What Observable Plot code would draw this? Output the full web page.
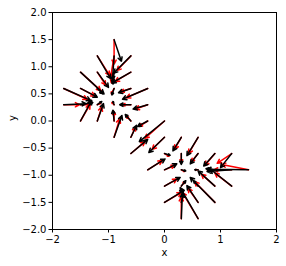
<!DOCTYPE html>
<html><head><meta charset="utf-8">
<script src="https://cdn.jsdelivr.net/npm/d3@7"></script>
<script src="https://cdn.jsdelivr.net/npm/@observablehq/plot@0.6"></script>
<style>body{margin:0;background:#fff} svg{font-family:"DejaVu Sans",sans-serif}</style>
</head><body><div id="chart"></div>
<script>
const tailX = [-1.8,-1.8,-1.5,-1.5,-1.5,-1.5,-1.2,-1.2,-1.2,-1.2,-1.2,-0.9,-0.9,-0.9,-0.9,-0.9,-0.9,-0.9,-0.6,-0.6,-0.6,-0.6,-0.6,-0.6,-0.3,-0.3,-0.3,
  -0.6,0.0,0.0,-0.3,0.0,
  0.3,0.6,0.3,0.6,0.9,1.2,0.0,0.3,0.6,0.9,1.2,1.5,0.0,0.3,0.6,0.9,1.2,0.0,0.3,0.6,0.9,0.3,0.6];
const tailY = [0.6,0.3,0.9,0.6,0.3,0.0,1.2,0.9,0.6,0.3,0.0,1.5,1.2,0.9,0.6,0.3,0.0,-0.3,1.2,0.9,0.6,0.3,0.0,-0.3,0.6,0.3,0.0,
  -0.6,0.0,-0.3,-0.9,-0.6,
  -0.3,-0.3,-0.6,-0.6,-0.6,-0.6,-0.9,-0.9,-0.9,-0.9,-0.9,-0.9,-1.2,-1.2,-1.2,-1.2,-1.2,-1.5,-1.5,-1.5,-1.5,-1.8,-1.8];
const blackU = [0.48,0.40,0.42,0.30,0.22,0.20,0.24,0.20,0.10,0.08,0.11,0.13,-0.03,-0.02,-0.04,-0.02,-0.02,0.14,-0.31,-0.34,-0.22,-0.20,-0.10,0.10,-0.45,-0.26,-0.18,
  0.30,-0.45,-0.28,0.31,0.10,
  -0.15,-0.20,0.00,-0.14,-0.20,-0.20,0.22,0.08,-0.06,-0.16,-0.44,-0.74,0.28,0.08,-0.08,-0.30,-0.38,0.35,0.04,-0.20,-0.44,0.02,-0.32];
const blackV = [-0.22,0.02,-0.40,-0.16,0.04,0.38,-0.42,-0.28,-0.10,0.06,0.32,-0.40,-0.45,-0.22,-0.12,0.06,0.20,0.40,-0.32,-0.20,-0.08,0.00,0.12,0.22,-0.20,-0.08,-0.10,
  0.26,-0.38,-0.28,0.20,-0.03,
  -0.25,-0.34,-0.20,-0.19,-0.23,-0.26,0.11,-0.02,0.00,0.02,-0.03,0.01,0.16,0.10,0.10,0.28,0.31,0.22,0.15,0.31,0.46,0.47,0.57];
const redU = [0.42,0.28,0.36,0.26,0.18,0.17,0.22,0.15,0.09,0.06,0.08,0.00,-0.06,-0.05,-0.05,-0.04,0.00,0.10,-0.25,-0.28,-0.18,-0.15,-0.08,0.08,-0.38,-0.22,-0.15,
  0.25,-0.35,-0.22,0.26,0.08,
  -0.12,-0.17,0.00,-0.12,-0.18,-0.26,0.18,0.06,-0.05,-0.14,-0.32,-0.48,0.22,0.06,-0.06,-0.24,-0.30,0.30,0.02,-0.18,-0.36,0.00,-0.28];
const redV = [-0.20,0.00,-0.34,-0.14,0.00,0.30,-0.36,-0.24,-0.08,0.03,0.26,-0.45,-0.38,-0.20,-0.10,0.04,0.17,0.34,-0.27,-0.17,-0.06,0.00,0.09,0.18,-0.17,-0.08,-0.10,
  0.22,-0.32,-0.22,0.17,-0.05,
  -0.22,-0.30,-0.16,-0.15,-0.22,-0.18,0.08,-0.03,0.00,0.00,0.00,0.10,0.13,0.08,0.08,0.22,0.24,0.18,0.12,0.26,0.38,0.40,0.48];

const xTicks = [-2,-1,0,1,2];
const yTicks = [-2,-1.5,-1,-0.5,0,0.5,1,1.5,2];

const data = tailX.map((x, i) => ({x, y: tailY[i], bu: blackU[i], bv: blackV[i], ru: redU[i], rv: redV[i]}));

const plot = Plot.plot({
  width: 286, height: 266,
  marginLeft: 52, marginRight: 10, marginTop: 12, marginBottom: 37,
  style: {fontFamily: "DejaVu Sans, sans-serif", fontSize: "10px", color: "#000"},
  x: {domain: [-2, 2]},
  y: {domain: [-2, 2]},
  marks: [
    Plot.arrow(data, {x1: "x", y1: "y", x2: d => d.x + d.ru, y2: d => d.y + d.rv, stroke: "#ff0000", strokeWidth: 1.5, headLength: 4.5, headAngle: 55}),
    Plot.arrow(data, {x1: "x", y1: "y", x2: d => d.x + d.bu, y2: d => d.y + d.bv, stroke: "#000000", strokeWidth: 1.5, headLength: 4.5, headAngle: 55}),
    Plot.frame({stroke: "#000", strokeWidth: 1}),
    Plot.axisX({ticks: xTicks, tickSize: 3.5, tickPadding: 3, tickFormat: d3.format("d"), label: null, fontSize: 10}),
    Plot.axisY({ticks: yTicks, tickSize: 3.5, tickPadding: 2.5, tickFormat: d3.format(".1f"), label: null, fontSize: 10}),
    Plot.text(["x"], {frameAnchor: "bottom", dy: 26, fontSize: 10}),
    Plot.text(["y"], {frameAnchor: "left", dx: -40, rotate: -90, fontSize: 10})
  ]
});
document.getElementById("chart").appendChild(plot);
</script>
</body></html>
